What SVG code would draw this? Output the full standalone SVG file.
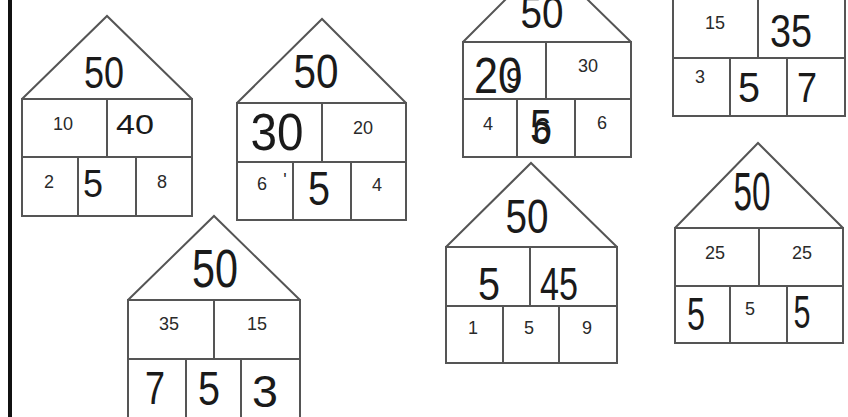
<svg xmlns="http://www.w3.org/2000/svg" width="848" height="417" viewBox="0 0 848 417">
<style>
.ln{fill:none;stroke:#555;stroke-width:2;stroke-linejoin:miter}
.bd{fill:#fff;stroke:#555;stroke-width:2}
.p{font-family:"Liberation Sans",Arial,sans-serif;font-size:18px;fill:#2a2a2a;text-anchor:middle}
.h{font-family:"Liberation Sans",Arial,sans-serif;fill:#1a1a1a;text-anchor:middle}
</style>
<rect width="848" height="417" fill="#fff"/>
<rect x="8" y="0" width="4" height="417" fill="#111"/>

<g id="house1">
<polyline class="ln" points="22,99 107,16 192,99"/>
<rect class="bd" x="22" y="99" width="170" height="117"/>
<path class="ln" d="M22,157H192M107,99V157M78,157V216M136,157V216"/>
<text class="h" x="104" y="88" font-size="44" textLength="40" lengthAdjust="spacingAndGlyphs">50</text>
<text class="p" x="63" y="130">10</text>
<text class="h" x="135" y="134" font-size="27" textLength="38" lengthAdjust="spacingAndGlyphs">40</text>
<text class="p" x="49" y="188">2</text>
<text class="h" x="93" y="197" font-size="38" textLength="20" lengthAdjust="spacingAndGlyphs">5</text>
<text class="p" x="162" y="188">8</text>
</g>

<g id="house2">
<polyline class="ln" points="237,103 322,19 406,103"/>
<rect class="bd" x="237" y="103" width="169" height="117"/>
<path class="ln" d="M237,162H406M322,103V162M293,162V220M351,162V220"/>
<text class="h" x="316" y="88" font-size="48" textLength="45" lengthAdjust="spacingAndGlyphs">50</text>
<text class="h" x="277" y="150" font-size="52" textLength="53" lengthAdjust="spacingAndGlyphs">30</text>
<text class="p" x="363" y="134">20</text>
<text class="p" x="262" y="190">6</text>
<text class="p" x="285" y="186" font-size="10">'</text>
<text class="h" x="319" y="205" font-size="48" textLength="22" lengthAdjust="spacingAndGlyphs">5</text>
<text class="p" x="377" y="191">4</text>
</g>

<g id="house3">
<polyline class="ln" points="463,42 546,-41 631,42"/>
<rect class="bd" x="463" y="42" width="168" height="115"/>
<path class="ln" d="M463,99H631M546,42V99M517,99V157M575,99V157"/>
<text class="h" x="542" y="28" font-size="44" textLength="43" lengthAdjust="spacingAndGlyphs">50</text>
<text class="h" x="498" y="93" font-size="50" textLength="48" lengthAdjust="spacingAndGlyphs">20</text>
<text class="h" x="514" y="88" font-size="30" textLength="16" lengthAdjust="spacingAndGlyphs" fill="#555">9</text>
<text class="p" x="588" y="72">30</text>
<text class="p" x="488" y="130">4</text>
<text class="h" x="541" y="143" font-size="48" textLength="22" lengthAdjust="spacingAndGlyphs">5</text>
<text class="h" x="542" y="144" font-size="36" textLength="18" lengthAdjust="spacingAndGlyphs" fill="#444">6</text>
<text class="p" x="602" y="129">6</text>
</g>

<g id="house4">
<rect class="bd" x="673" y="-2" width="172" height="118"/>
<path class="ln" d="M673,58H845M758,-2V58M730,58V116M787,58V116"/>
<text class="p" x="715" y="29" font-size="16">15</text>
<text class="h" x="791" y="47" font-size="46" textLength="42" lengthAdjust="spacingAndGlyphs">35</text>
<text class="p" x="700" y="83" font-size="15">3</text>
<text class="h" x="749" y="102" font-size="42" textLength="22" lengthAdjust="spacingAndGlyphs">5</text>
<text class="h" x="807" y="102" font-size="42" textLength="20" lengthAdjust="spacingAndGlyphs">7</text>
</g>

<g id="house5">
<polyline class="ln" points="128,300 214,216 300,300"/>
<rect class="bd" x="128" y="300" width="172" height="130"/>
<path class="ln" d="M128,359H300M214,300V359M186,359V430M241,359V430"/>
<text class="h" x="215" y="287" font-size="54" textLength="46" lengthAdjust="spacingAndGlyphs">50</text>
<text class="p" x="169" y="330">35</text>
<text class="p" x="257" y="330">15</text>
<text class="h" x="155" y="404" font-size="46" textLength="20" lengthAdjust="spacingAndGlyphs">7</text>
<text class="h" x="209" y="405" font-size="48" textLength="22" lengthAdjust="spacingAndGlyphs">5</text>
<text class="h" x="265" y="407" font-size="44" textLength="26" lengthAdjust="spacingAndGlyphs">3</text>
</g>

<g id="house6">
<polyline class="ln" points="446,247 531,163 617,247"/>
<rect class="bd" x="446" y="247" width="171" height="116"/>
<path class="ln" d="M446,306H617M530,247V306M503,306V363M559,306V363"/>
<text class="h" x="527" y="233" font-size="48" textLength="43" lengthAdjust="spacingAndGlyphs">50</text>
<text class="h" x="489" y="300" font-size="46" textLength="22" lengthAdjust="spacingAndGlyphs">5</text>
<text class="h" x="559" y="300" font-size="46" textLength="38" lengthAdjust="spacingAndGlyphs">45</text>
<text class="p" x="473" y="334">1</text>
<text class="p" x="529" y="334">5</text>
<text class="p" x="587" y="334">9</text>
</g>

<g id="house7">
<polyline class="ln" points="675,228 758,143 843,228"/>
<rect class="bd" x="675" y="228" width="168" height="115"/>
<path class="ln" d="M675,286H843M759,228V286M730,286V343M787,286V343"/>
<text class="h" x="752" y="210" font-size="54" textLength="37" lengthAdjust="spacingAndGlyphs">50</text>
<text class="p" x="715" y="259">25</text>
<text class="p" x="802" y="259">25</text>
<text class="h" x="696" y="330" font-size="46" textLength="18" lengthAdjust="spacingAndGlyphs">5</text>
<text class="p" x="750" y="315">5</text>
<text class="h" x="802" y="328" font-size="46" textLength="17" lengthAdjust="spacingAndGlyphs">5</text>
</g>
</svg>
